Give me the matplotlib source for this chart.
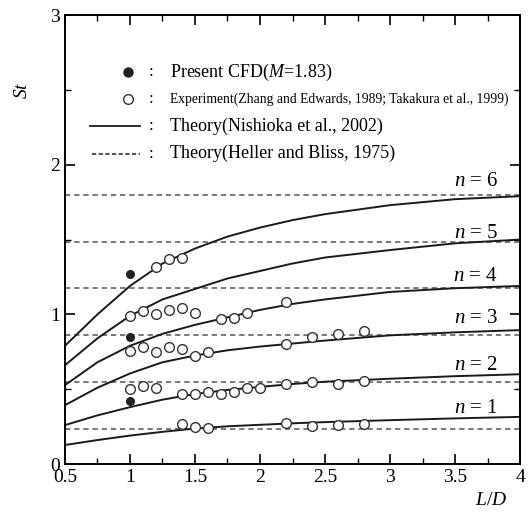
import numpy as np
import matplotlib
matplotlib.use("Agg")
import matplotlib.pyplot as plt

plt.rcParams['font.family'] = ['Liberation Serif', 'DejaVu Serif']
plt.rcParams['mathtext.fontset'] = 'custom'
plt.rcParams['mathtext.rm'] = 'Liberation Serif'
plt.rcParams['mathtext.it'] = 'Liberation Serif:italic'

# Theory (Nishioka et al., 2002), St vs L/D for modes n = 1..6
ld_theory = [0.5, 0.75, 1.0, 1.25, 1.5, 1.75, 2.0, 2.25, 2.5, 3.0, 3.5, 4.0]
st_n1 = [0.127, 0.16, 0.19, 0.215, 0.237, 0.252, 0.262, 0.272, 0.28, 0.293, 0.305, 0.315]
st_n2 = [0.26, 0.325, 0.38, 0.43, 0.468, 0.495, 0.515, 0.535, 0.55, 0.57, 0.587, 0.60]
st_n3 = [0.393, 0.51, 0.605, 0.68, 0.725, 0.76, 0.785, 0.805, 0.825, 0.86, 0.88, 0.895]
st_n4 = [0.527, 0.68, 0.79, 0.87, 0.93, 0.98, 1.03, 1.07, 1.10, 1.15, 1.175, 1.19]
st_n5 = [0.66, 0.84, 0.99, 1.10, 1.17, 1.24, 1.29, 1.34, 1.38, 1.43, 1.475, 1.50]
st_n6 = [0.79, 1.00, 1.19, 1.34, 1.44, 1.52, 1.58, 1.63, 1.67, 1.73, 1.77, 1.79]
theory_curves = [st_n1, st_n2, st_n3, st_n4, st_n5, st_n6]

# Theory (Heller and Bliss, 1975), constant St per mode
st_heller = [0.235, 0.548, 0.861, 1.174, 1.487, 1.80]
mode_labels = ["1", "2", "3", "4", "5", "6"]
label_y = [0.373, 0.66, 0.973, 1.253, 1.54, 1.887]

# Present CFD (M=1.83)
ld_cfd = [1.0, 1.0, 1.0]
st_cfd = [0.42, 0.85, 1.27]

# Experiment (Zhang and Edwards 1989; Takakura et al. 1999)
ld_exp = [1.2, 1.3, 1.4,
          1.0, 1.1, 1.2, 1.3, 1.4, 1.5, 1.7, 1.8, 1.9, 2.2,
          1.0, 1.1, 1.2, 1.3, 1.4, 1.5, 1.6, 2.2, 2.4, 2.6, 2.8,
          1.0, 1.1, 1.2,
          1.4, 1.5, 1.6, 1.7, 1.8, 1.9, 2.0, 2.2, 2.4, 2.6, 2.8,
          1.4, 1.5, 1.6, 2.2, 2.4, 2.6, 2.8]
st_exp = [1.32, 1.37, 1.38,
          0.99, 1.02, 1.00, 1.03, 1.045, 1.01, 0.97, 0.975, 1.01, 1.08,
          0.755, 0.78, 0.75, 0.78, 0.767, 0.72, 0.75, 0.80, 0.85, 0.87, 0.887,
          0.50, 0.52, 0.51,
          0.47, 0.465, 0.478, 0.47, 0.478, 0.51, 0.51, 0.538, 0.549, 0.538, 0.553,
          0.267, 0.249, 0.238, 0.275, 0.255, 0.26, 0.267]

x_ticks = [0.5, 1, 1.5, 2, 2.5, 3, 3.5, 4]
x_ticklabels = ["0.5", "1", "1.5", "2", "2.5", "3", "3.5", "4"]
y_ticks = [0, 1, 2, 3]
y_ticklabels = ["0", "1", "2", "3"]

fig = plt.figure(figsize=(5.28, 5.13), dpi=100)
ax = fig.add_axes([0.123, 0.0955, 0.862, 0.875])

for st in st_heller:
    ax.plot([0.5, 4.0], [st, st], color="#555555", lw=1.1, ls=(0, (3.5, 2.5)))
for st in theory_curves:
    ax.plot(ld_theory, st, color="#1a1a1a", lw=1.4)

ax.plot(ld_exp, st_exp, "o", ms=7, mfc="white", mec="#333333", mew=1.0, ls="none")
ax.plot(ld_cfd, st_cfd, "o", ms=5.5, mfc="#222222", mec="#222222", ls="none")

for lab, y in zip(mode_labels, label_y):
    ax.text(3.66, y, "$n$ = " + lab, fontsize=15, ha="center", va="center")

# legend drawn by hand
leg_x = 0.143
rows = [0.873, 0.813, 0.752, 0.691]
ax.plot([leg_x - 0.005], [rows[0]], "o", ms=6.5, mfc="#222222", mec="#222222", transform=ax.transAxes)
ax.plot([leg_x - 0.005], [rows[1]], "o", ms=7, mfc="white", mec="#333333", transform=ax.transAxes)
ax.plot([0.055, 0.165], [rows[2], rows[2]], color="#1a1a1a", lw=1.3, transform=ax.transAxes)
ax.plot([0.06, 0.165], [rows[3], rows[3]], color="#333333", lw=1.2, ls=(0, (2.5, 1.5)), transform=ax.transAxes)
legend_texts = ["Present CFD($M$=1.83)",
                "Experiment(Zhang and Edwards, 1989; Takakura et al., 1999)",
                "Theory(Nishioka et al., 2002)",
                "Theory(Heller and Bliss, 1975)"]
legend_sizes = [13, 9.8, 13, 13]
for y, t, fs in zip(rows, legend_texts, legend_sizes):
    ax.text(0.19, y, ":", fontsize=12, va="center", ha="center", transform=ax.transAxes)
    ax.text(0.23, y, t, fontsize=fs, va="center", ha="left", transform=ax.transAxes)

ax.set_xlim(0.5, 4.0)
ax.set_ylim(0, 3)
ax.set_xticks(x_ticks)
ax.set_xticklabels(x_ticklabels)
ax.set_xticks(np.arange(0.75, 4.0, 0.5), minor=True)
ax.set_yticks(y_ticks)
ax.set_yticklabels(y_ticklabels)
ax.set_yticks([0.5, 1.5, 2.5], minor=True)
ax.tick_params(which="both", direction="in", top=True, right=True, labelsize=14)
ax.tick_params(which="major", length=7, width=1.2)
ax.tick_params(which="minor", length=4, width=1.0)
for s in ax.spines.values():
    s.set_linewidth(1.4)

fig.text(0.042, 0.825, "$St$", fontsize=14, rotation=90, ha="center", va="center")
fig.text(0.93, 0.025, "$L/D$", fontsize=14, ha="center", va="center")

fig.savefig("out.png", dpi=100)
